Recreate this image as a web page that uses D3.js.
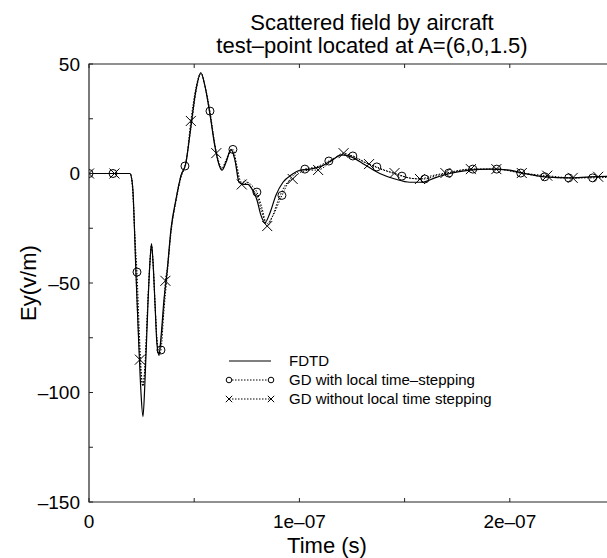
<!DOCTYPE html>
<html><head><meta charset="utf-8">
<script src="https://cdn.jsdelivr.net/npm/d3@7"></script>
<style>body{margin:0;background:#fff}svg{display:block}text{font-family:"Liberation Sans",Arial,Helvetica,sans-serif;fill:#000}</style>
</head><body><svg id="c" width="607" height="558"></svg>
<script>
// time in ns, field in V/m
const fdtdT = [0,19.5,20.0,20.9,21.6,22.3,23.75,24.7,25.65,26.6,28.0,29.0,29.7,30.4,31.4,32.3,33.25,34.2,35.6,37.1,39.0,41.3,43.7,46.1,48.5,50.8,53.2,55.1,57.5,59.9,61.8,63.2,65.1,67.5,69.4,71.3,73.6,75.5,77.4,79.8,81.7,83.6,86.0,88.8,92.2,96.4,100.2,105.0,109.7,115.4,120.2,124.9,131.1,138.2,145.4,152.5,158.2,164.4,171.5,181.0,190.5,200.0,207.1,216.6,228.5,238.0,250];
const fdtdV = [0,0,-1,-8,-25,-45,-80,-100,-111,-95,-60,-40,-32,-40,-60,-78,-83,-75,-58,-45,-25,-12,-1,5,22,38,46,40,27,12,4,1.5,5,11,6,-4,-5,-5,-7,-12,-19,-22.5,-18,-10,-4,-0.5,1.5,2,3,6,8.5,7.5,4,0,-2.5,-4,-4,-2,0,1.5,2,1.5,0,-1.5,-2,-1.5,-1.2];

const gdLocalT = [0,11.4,19.5,20.2,21.0,21.9,22.8,23.9,24.8,25.65,26.6,28,29,29.7,30.4,31.4,32.3,33.25,34.2,35.6,37.1,39,41.3,43.7,45.6,48.5,50.8,53.2,55.1,57.5,59.9,61.8,63.2,65.1,68.4,70.2,71.8,73.6,75.5,77.4,79.8,82.0,84.5,87,91.7,96,102.6,108,114,120.5,125.4,131,136.8,142,148.7,154,159.6,165,171,182.4,193.8,205.2,216.6,228,239.4,250];
const gdLocalV = [0,0,0,-2,-12,-30,-45,-72,-90,-97,-88,-58,-40,-33,-40,-60,-76,-83,-80.6,-63,-47,-27,-13,-2,3.4,21,37,45.5,40,28.5,13,5,2.5,6,11,4,-3,-5,-4,-5.5,-8.5,-15,-23,-20,-10,-2,2,3,5.7,8.5,8,5,3,1,-1.2,-2.3,-2.5,-1,0.2,2,2,0.2,-1.5,-2,-2,-1.5];
const gdLocalMarkT = [0,11.4,22.8,34.2,45.6,57.5,68.4,79.8,91.7,102.6,114.0,125.4,136.8,148.7,159.6,171.0,182.4,193.8,205.2,216.6,228.0,239.4];
const gdLocalMarkV = [0,0,-45,-80.6,3.4,28.5,11,-8.5,-10,2,5.7,8,3,-1.2,-2.5,0.2,2,2,0.2,-1.5,-2,-2];

const gdNoLocalT = [0,12.1,19.5,20,20.9,21.6,22.3,23.75,24.2,24.7,25.65,26.6,28,29,29.7,30.4,31.4,32.3,33.25,34.2,35.6,36.3,37.1,39,41.3,43.7,46.1,48.4,50.8,53.2,55.1,57.5,60.5,62,63.2,65.1,67.5,69.4,71.3,72.6,74,75.5,77.4,79.8,82.0,84.7,87,90,93.5,96.8,100.5,105,108.9,115,121,125,133.1,140,145.2,152,157.3,163,169.4,181.5,193.6,205.7,217.8,229.9,242,250];
const gdNoLocalV = [0,0,0,-1,-8,-25,-45,-78,-85,-92,-97,-88,-58,-40,-33,-40,-60,-76,-82,-76,-60,-49,-44,-26,-12,-1,5,24,39,46,40,27,9.3,3.5,2,6,11,6,-3,-5,-3,-4.5,-7,-10,-17,-24,-20,-12,-5,-2.5,0.5,1.5,1.6,5.5,9.3,8,4.3,1.5,0.2,-2,-2.5,-1,0.2,2,2,0.2,-1,-2,-1.5,-1.2];
const gdNoLocalMarkT = [0,12.1,24.2,36.3,48.4,60.5,72.6,84.7,96.8,108.9,121.0,133.1,145.2,157.3,169.4,181.5,193.6,205.7,217.8,229.9,242.0];
const gdNoLocalMarkV = [0,0,-85,-49,24,9.3,-5,-24,-2.5,1.6,9.3,4.3,0.2,-2.5,0.2,2,2,0.2,-1,-2,-1.5];

const xTickVals = [0,100,200];
const xTickLabels = ["0","1e\u201307","2e\u201307"];
const xMinorVals = [50,150];
const yTickVals = [50,0,-50,-100,-150];
const yTickLabels = ["50","0","\u201350","\u2013100","\u2013150"];
const yMinorVals = [25,-25,-75,-125];
const legendLabels = ["FDTD","GD with local time\u2013stepping","GD without local time stepping"];
const titleLines = ["Scattered field by aircraft","test\u2013point located at A=(6,0,1.5)"];

const svg = d3.select("#c");
const L=89, T=64, B=502, R=607;
const x = d3.scaleLinear().domain([0,250]).range([89,615]);
const y = d3.scaleLinear().domain([-150,50]).range([B,T]);

svg.append("defs").append("clipPath").attr("id","clip").append("rect")
  .attr("x",L).attr("y",T-6).attr("width",R-L).attr("height",B-T+12);
const g = svg.append("g").attr("clip-path","url(#clip)");

const zip=(a,b)=>a.map((t,i)=>[t,b[i]]);
const line = d3.line().x(d=>x(d[0])).y(d=>y(d[1])).curve(d3.curveMonotoneX);

g.append("path").datum(zip(gdNoLocalT,gdNoLocalV)).attr("d",line)
  .attr("fill","none").attr("stroke","#000").attr("stroke-width",1).attr("stroke-dasharray","1.5,1.5");
g.append("path").datum(zip(gdLocalT,gdLocalV)).attr("d",line)
  .attr("fill","none").attr("stroke","#000").attr("stroke-width",1).attr("stroke-dasharray","1.5,1.5");
g.append("path").datum(zip(fdtdT,fdtdV)).attr("d",line)
  .attr("fill","none").attr("stroke","#000").attr("stroke-width",1.2);

g.selectAll("circle.m").data(zip(gdLocalMarkT,gdLocalMarkV)).enter().append("circle")
  .attr("cx",d=>x(d[0])).attr("cy",d=>y(d[1])).attr("r",4)
  .attr("fill","none").attr("stroke","#000").attr("stroke-width",1);
const xs=5;
g.selectAll("path.x").data(zip(gdNoLocalMarkT,gdNoLocalMarkV)).enter().append("path")
  .attr("d",d=>{const cx=x(d[0]),cy=y(d[1]);return `M${cx-xs},${cy-xs}L${cx+xs},${cy+xs}M${cx-xs},${cy+xs}L${cx+xs},${cy-xs}`;})
  .attr("stroke","#000").attr("stroke-width",1).attr("fill","none");

// frame
const fr = svg.append("g").attr("stroke","#222").attr("stroke-width",1.2).attr("fill","none");
fr.append("path").attr("d",`M${R},${T}H${L}V${B}H${R}`);
// ticks
const tk = svg.append("g").attr("stroke","#222").attr("stroke-width",1);
yTickVals.concat(yMinorVals).forEach(v=>{tk.append("line").attr("x1",L).attr("x2",L+4).attr("y1",y(v)).attr("y2",y(v));});
xTickVals.concat(xMinorVals).forEach(v=>{
  tk.append("line").attr("x1",x(v)).attr("x2",x(v)).attr("y1",B).attr("y2",B-4);
  tk.append("line").attr("x1",x(v)).attr("x2",x(v)).attr("y1",T).attr("y2",T+4);
});
// tick labels
yTickVals.forEach((v,i)=>svg.append("text").attr("x",80).attr("y",y(v)).attr("dy","0.36em")
  .attr("text-anchor","end").attr("font-size",19).text(yTickLabels[i]));
xTickVals.forEach((v,i)=>svg.append("text").attr("x",x(v)).attr("y",528)
  .attr("text-anchor","middle").attr("font-size",19).text(xTickLabels[i]));

svg.append("text").attr("x",327).attr("y",553).attr("text-anchor","middle").attr("font-size",22).text("Time (s)");
svg.append("text").attr("transform","translate(36,283) rotate(-90)").attr("text-anchor","middle").attr("font-size",22).text("Ey(v/m)");
svg.append("text").attr("x",372).attr("y",30).attr("text-anchor","middle").attr("font-size",22).text(titleLines[0]);
svg.append("text").attr("x",372).attr("y",53).attr("text-anchor","middle").attr("font-size",22).text(titleLines[1]);

// legend
const ly=[361,380,399], lx1=229, lx2=271;
const lg = svg.append("g");
lg.append("line").attr("x1",lx1).attr("x2",lx2).attr("y1",ly[0]).attr("y2",ly[0]).attr("stroke","#000").attr("stroke-width",1.2);
[1,2].forEach(k=>lg.append("line").attr("x1",lx1).attr("x2",lx2).attr("y1",ly[k]).attr("y2",ly[k])
  .attr("stroke","#000").attr("stroke-width",1).attr("stroke-dasharray","1.5,1.5"));
[lx1,lx2].forEach(px=>{
  lg.append("circle").attr("cx",px).attr("cy",ly[1]).attr("r",2.8).attr("fill","#fff").attr("stroke","#000");
  const s=3.2;
  lg.append("path").attr("d",`M${px-s},${ly[2]-s}L${px+s},${ly[2]+s}M${px-s},${ly[2]+s}L${px+s},${ly[2]-s}`).attr("stroke","#000");
});
legendLabels.forEach((t,i)=>lg.append("text").attr("x",289).attr("y",ly[i]).attr("dy","0.36em").attr("font-size",15).text(t));
</script></body></html>
